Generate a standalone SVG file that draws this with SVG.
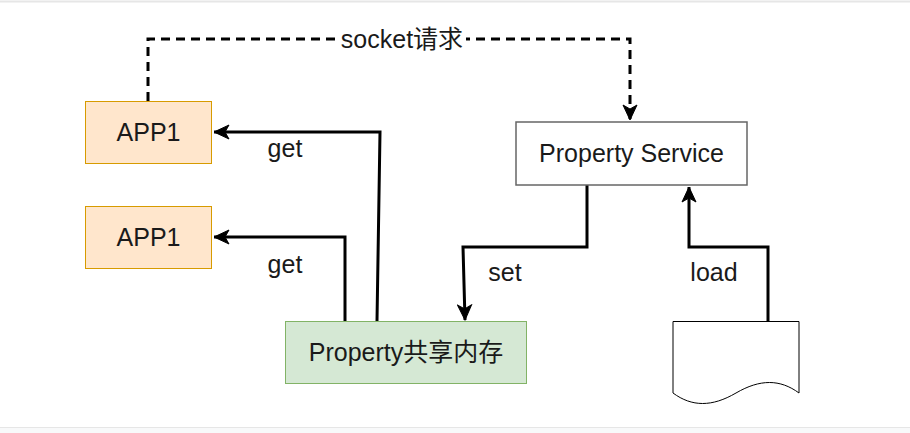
<svg xmlns="http://www.w3.org/2000/svg" width="910" height="433" viewBox="0 0 910 433">
<defs>
<style>
.t{font-family:"Liberation Sans","Noto Sans CJK SC",Arial,sans-serif;font-size:25px;fill:#1a1a1a;text-anchor:middle}
.ln{fill:none;stroke:#000;stroke-width:3}
.dash{stroke-dasharray:9 6}
</style>
<marker id="ah" viewBox="-16 -8 17 16" markerWidth="17" markerHeight="16" refX="0" refY="0" orient="auto" markerUnits="userSpaceOnUse">
<path d="M0,0 L-15,-7 L-11,0 L-15,7 Z" fill="#000" stroke="#000" stroke-width="1"/>
</marker>
</defs>
<rect x="0" y="0" width="910" height="433" fill="#fff"/>
<line x1="0" y1="1.5" x2="910" y2="1.5" stroke="#e6e6e6" stroke-width="2"/>
<rect x="0" y="427" width="910" height="6" fill="#f8f9fa"/>
<line x1="0" y1="427.5" x2="910" y2="427.5" stroke="#e6e6e6" stroke-width="1"/>

<g id="connectors">
<path class="ln dash" d="M148,101 V39 H630 V120" marker-end="url(#ah)"/>
<rect x="338" y="26" width="128" height="26" fill="#fff"/>
<text class="t" x="402" y="48">socket请求</text>
<path class="ln" d="M377,321 L380,132 H214" marker-end="url(#ah)"/>
<text class="t" x="285" y="157">get</text>
<path class="ln" d="M345,321 V237 H214" marker-end="url(#ah)"/>
<text class="t" x="285" y="273">get</text>
<path class="ln" d="M587,185 V247 H463 L465,320" marker-end="url(#ah)"/>
<text class="t" x="505" y="281">set</text>
<path class="ln" d="M768,321 V247 H689 V187" marker-end="url(#ah)"/>
<text class="t" x="714" y="281">load</text>
</g>

<g id="app1a">
<rect x="85.5" y="101.5" width="126" height="62" fill="#ffe6cc" stroke="#d79b00" stroke-width="1"/>
<text class="t" x="148.5" y="141">APP1</text>
</g>
<g id="app1b">
<rect x="85.5" y="206.5" width="126" height="62" fill="#ffe6cc" stroke="#d79b00" stroke-width="1"/>
<text class="t" x="148.5" y="246">APP1</text>
</g>
<g id="shm">
<rect x="285.5" y="321.5" width="241" height="62" fill="#d5e8d4" stroke="#82b366" stroke-width="1"/>
<text class="t" x="406" y="361">Property共享内存</text>
</g>
<g id="service">
<rect x="516" y="122" width="231" height="63" fill="#fff" stroke="#666" stroke-width="1.5"/>
<text class="t" x="631.5" y="162">Property Service</text>
</g>
<g id="doc">
<path d="M673,321.5 H799 V393 C780,379 760,379 736,393 C712,407 692,407 673,393 Z" fill="#fff" stroke="#000" stroke-width="1"/>
</g>
</svg>
